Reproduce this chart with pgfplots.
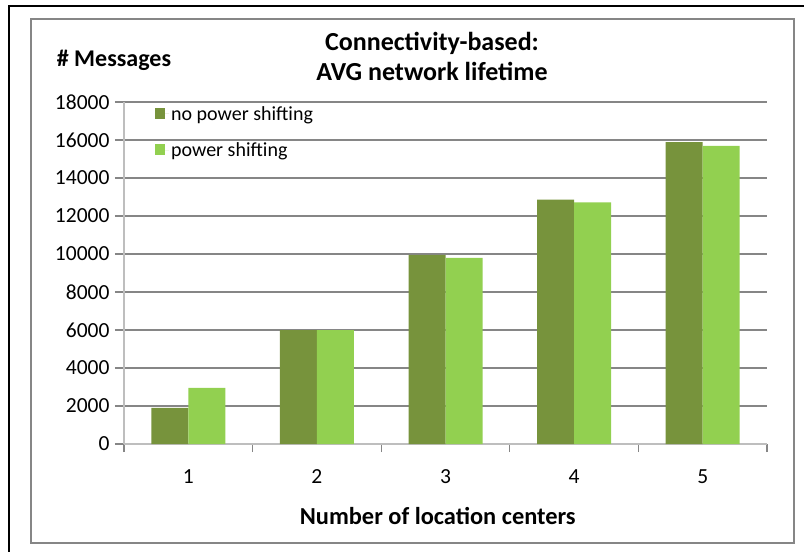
\documentclass[border=0pt]{standalone}
\usepackage{pgfplots}
\pgfplotsset{compat=1.18}
\usepackage{fontspec}
\setmainfont{Carlito}
\definecolor{darkg}{RGB}{119,147,60}
\definecolor{lightg}{RGB}{146,208,80}
\definecolor{gridg}{RGB}{134,134,134}
\definecolor{axisg}{RGB}{190,190,190}
\begin{document}
\begin{tikzpicture}[x=1pt,y=1pt]
\useasboundingbox (0,0) rectangle (804,-552);
\draw[line width=2.5pt,black] (804,-6) -- (9,-6) -- (9,-552);
\draw[line width=2pt,gridg] (31,-19) rectangle (794,-543);
\begin{axis}[
  at={(124pt,-444pt)}, anchor=origin,
  scale only axis, width=643pt, height=342pt,
  xmin=0.5, xmax=5.5, ymin=0, ymax=18000,
  ybar=0pt, bar width=37pt,
  axis x line*=bottom, axis y line*=left,
  axis line style={line width=1.5pt, axisg, -},
  xtick={1,2,3,4,5}, xticklabels={1,2,3,4,5},
  minor xtick={0.5,1.5,2.5,3.5,4.5,5.5},
  ytick={0,2000,...,18000},
  tick align=outside,
  major tick length=9pt, minor tick length=8pt,
  xtick style={draw=none},
  minor x tick style={draw=gridg, line width=1.2pt},
  ytick style={draw=gridg, line width=1.2pt},
  ymajorgrids, grid style={gridg, line width=1.3pt},
  scaled y ticks=false,
  yticklabel style={/pgf/number format/1000 sep={}, font=\fontsize{21.5}{24}\selectfont, xshift=-2pt},
  xticklabel style={font=\fontsize{21.5}{24}\selectfont, yshift=-13pt},
  /pgf/number format/assume math mode=true,
  legend style={at={(0.0435,1.0)}, anchor=north west, draw=none, fill=none,
    font=\fontsize{20}{24}\selectfont, row sep=17pt,
    /tikz/every even column/.append style={column sep=4pt}},
  legend cell align=left,
  legend image code/.code={\fill[#1] (0pt,-5pt) rectangle (10pt,6pt);\path (0pt,0pt) -- (14pt,0pt);},
  clip=false,
]
\addplot[fill=darkg, draw=none] coordinates {(1,1900) (2,6000) (3,9950) (4,12860) (5,15890)};
\addplot[fill=lightg, draw=none] coordinates {(1,2950) (2,6000) (3,9790) (4,12720) (5,15690)};
\legend{no power shifting, power shifting}
\node[font=\bfseries\fontsize{26}{30}\selectfont, align=center] at (rel axis cs:0.479,1.132) {Connectivity-based:\\AVG network lifetime};
\node[font=\bfseries\fontsize{24}{26}\selectfont] at (rel axis cs:-0.0156,1.123) {\# Messages};
\node[font=\bfseries\fontsize{24.4}{26}\selectfont] at (rel axis cs:0.488,-0.2105) {Number of location centers};
\end{axis}
\end{tikzpicture}
\end{document}
